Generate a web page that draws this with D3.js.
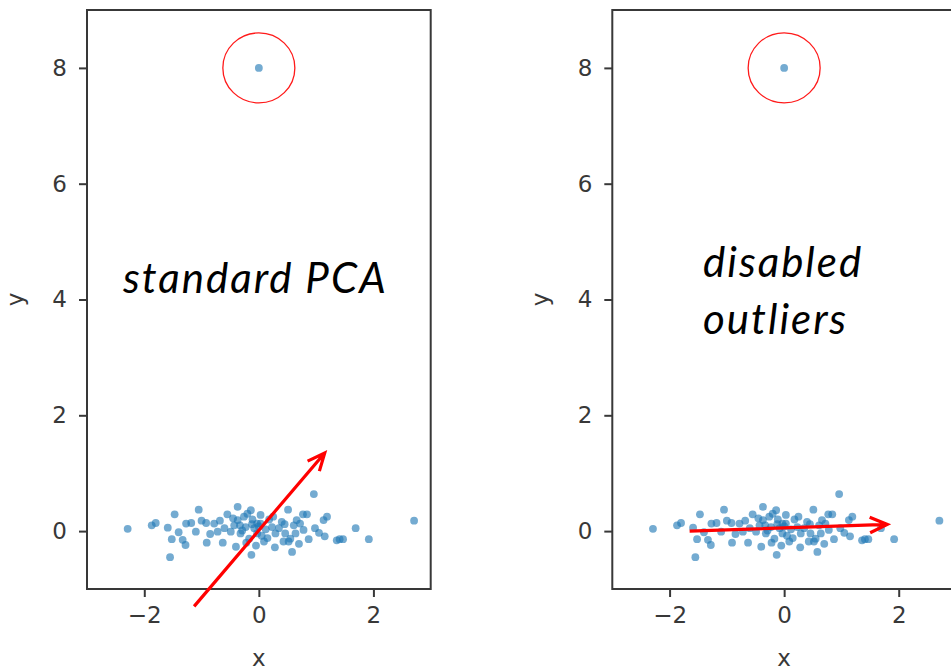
<!DOCTYPE html>
<html>
<head>
<meta charset="utf-8">
<script src="https://cdn.jsdelivr.net/npm/d3@7"></script>
<style>
  html, body { margin: 0; padding: 0; background: #fff; }
  svg { display: block; }
</style>
</head>
<body>
<svg id="chart" width="951" height="671"></svg>
<script>
// Sample cloud: one outlier at (0, 8) plus a flat cluster around the origin
const pointsX = [
  -2.29, -1.87, -1.80, -1.59, -1.47, -1.52, -1.55, -1.33, -1.28, -1.27,
  -1.18, -1.10, -1.05, -0.92, -0.91, -0.78, -0.72, -0.63, -0.55, -0.49,
  -0.43, -0.40, -0.37, -0.37, -0.32, -0.29, -0.26, -0.23, -0.17, -0.14,
  -0.11, -0.13, -0.03, -0.03, 0.03, 0.03, 0.09, 0.23, 0.28, 0.29,
  0.40, 0.43, 0.46, 0.51, 0.52, 0.55, 0.58, 0.61, 0.64, 0.66,
  0.72, 0.77, 0.78, 0.84, 0.87, 0.96, 0.98, 1.13, 1.19, 1.15,
  1.36, 1.41, 1.47, 1.69, 1.92, 2.71,
  -0.45, -0.33, -0.20, -0.08, 0.12, 0.18, 0.05, -0.22, 0.15, -0.60,
  -0.85, -1.00, 0.35, 0.25, -0.05, 0.00, -0.12, 0.45, -1.40, -0.68,
  0.70, 1.05,
  0.00
];
const pointsY = [
  0.04, 0.10, 0.14, 0.06, 0.29, -0.14, -0.45, -0.15, -0.24, 0.13,
  0.14, -0.01, 0.37, 0.14, -0.20, 0.13, -0.01, -0.20, 0.29, -0.01,
  0.10, -0.27, 0.42, 0.19, -0.04, 0.01, 0.25, 0.07, -0.13, 0.36,
  0.20, -0.41, -0.04, 0.13, 0.28, 0.13, -0.18, 0.07, -0.28, -0.04,
  0.16, -0.18, -0.04, 0.37, -0.18, -0.13, -0.36, 0.10, -0.04, 0.19,
  0.13, 0.29, 0.02, 0.29, -0.14, 0.64, 0.05, 0.19, 0.25, -0.09,
  -0.16, -0.14, -0.14, 0.05, -0.14, 0.18,
  0.22, 0.10, 0.30, 0.05, 0.03, 0.20, -0.08, -0.20, -0.12, 0.05,
  -0.05, 0.18, 0.05, 0.25, -0.25, 0.08, 0.12, 0.12, -0.02, 0.18,
  -0.22, -0.03,
  8.00
];

// Highlighted outlier
const outlier = [0, 8];

// Principal direction arrows (tail -> head) in data units
const arrowStandard = [[-1.13, -1.30], [1.15, 1.35]];
const arrowRobust = [[-1.65, 0.00], [1.80, 0.115]];

const xTicks = [-2, 0, 2];
const yTicks = [0, 2, 4, 6, 8];
const xDomain = [-3, 3];
const yDomain = [-1, 9];

const panels = [
  { left: 87, arrow: arrowStandard, lines: ["standard PCA"], textX: 123, textY: 293 },
  { left: 612.3, arrow: arrowRobust, lines: ["disabled", "outliers"], textX: 703, textY: 277 }
];

const plotW = 343.7;
const plotTop = 10;
const plotBottom = 589;

const svg = d3.select("#chart");
const points = pointsX.map((x, i) => ({ x, y: pointsY[i] }));

const axisColor = "#383838";
const tickFont = "'DejaVu Sans', sans-serif";

panels.forEach((p, pi) => {
  const x = d3.scaleLinear().domain(xDomain).range([p.left, p.left + plotW]);
  const y = d3.scaleLinear().domain(yDomain).range([plotBottom, plotTop]);

  const g = svg.append("g");
  const clipId = "clip" + pi;
  g.append("clipPath").attr("id", clipId)
    .append("rect")
    .attr("x", p.left).attr("y", plotTop)
    .attr("width", plotW).attr("height", plotBottom - plotTop);

  // Scatter
  g.append("g").attr("clip-path", `url(#${clipId})`)
    .selectAll("circle")
    .data(points)
    .join("circle")
    .attr("cx", d => x(d.x))
    .attr("cy", d => y(d.y))
    .attr("r", 3.9)
    .attr("fill", "#1f77b4")
    .attr("fill-opacity", 0.62);

  // Ring around the outlier
  g.append("ellipse")
    .attr("cx", x(outlier[0]))
    .attr("cy", y(outlier[1]))
    .attr("rx", 36)
    .attr("ry", 35)
    .attr("fill", "none")
    .attr("stroke", "#ff1a1a")
    .attr("stroke-width", 1.3);

  // Frame
  g.append("rect")
    .attr("x", p.left).attr("y", plotTop)
    .attr("width", plotW).attr("height", plotBottom - plotTop)
    .attr("fill", "none")
    .attr("stroke", axisColor)
    .attr("stroke-width", 2);

  // Axes
  const xAxis = d3.axisBottom(x).tickValues(xTicks)
    .tickFormat(d => d < 0 ? "\u2212" + Math.abs(d) : d)
    .tickSize(8).tickPadding(10);
  const yAxis = d3.axisLeft(y).tickValues(yTicks)
    .tickSize(8).tickPadding(12);

  const gx = g.append("g").attr("transform", `translate(0,${plotBottom})`).call(xAxis);
  const gy = g.append("g").attr("transform", `translate(${p.left},0)`).call(yAxis);
  [gx, gy].forEach(a => {
    a.select(".domain").remove();
    a.selectAll(".tick line").attr("stroke", axisColor).attr("stroke-width", 2);
    a.selectAll(".tick text")
      .attr("fill", axisColor)
      .style("font-family", tickFont)
      .style("font-size", "23px");
  });

  // Axis titles
  g.append("text")
    .attr("x", x(0)).attr("y", 666)
    .attr("text-anchor", "middle")
    .attr("fill", axisColor)
    .style("font-family", tickFont).style("font-size", "23px")
    .text("x");
  g.append("text")
    .attr("transform", `translate(${p.left - 64},${y(4)}) rotate(-90)`)
    .attr("text-anchor", "middle")
    .attr("fill", axisColor)
    .style("font-family", tickFont).style("font-size", "23px")
    .text("y");

  // Principal direction arrow (drawn unclipped)
  const [t, h] = p.arrow;
  const x0 = x(t[0]), y0 = y(t[1]), x1 = x(h[0]), y1 = y(h[1]);
  const ang = Math.atan2(y1 - y0, x1 - x0);
  const headLen = 19, headSpread = 0.42;
  const hx1 = x1 - headLen * Math.cos(ang - headSpread);
  const hy1 = y1 - headLen * Math.sin(ang - headSpread);
  const hx2 = x1 - headLen * Math.cos(ang + headSpread);
  const hy2 = y1 - headLen * Math.sin(ang + headSpread);
  const arrow = d3.path();
  arrow.moveTo(x0, y0); arrow.lineTo(x1, y1);
  arrow.moveTo(hx1, hy1); arrow.lineTo(x1, y1); arrow.lineTo(hx2, hy2);
  g.append("path")
    .attr("d", arrow.toString())
    .attr("fill", "none")
    .attr("stroke", "#ff0000")
    .attr("stroke-width", 3.2)
    .attr("stroke-linecap", "butt")
    .attr("stroke-linejoin", "miter");

  // Caption
  const cap = g.append("text")
    .attr("x", p.textX).attr("y", p.textY)
    .attr("fill", "#000")
    .style("font-family", "Lato, 'Open Sans', sans-serif")
    .style("font-style", "italic")
    .style("font-size", "42px")
    .style("letter-spacing", "2px");
  p.lines.forEach((line, i) => {
    cap.append("tspan").attr("x", p.textX).attr("dy", i === 0 ? 0 : 57).text(line);
  });
});
</script>
</body>
</html>
